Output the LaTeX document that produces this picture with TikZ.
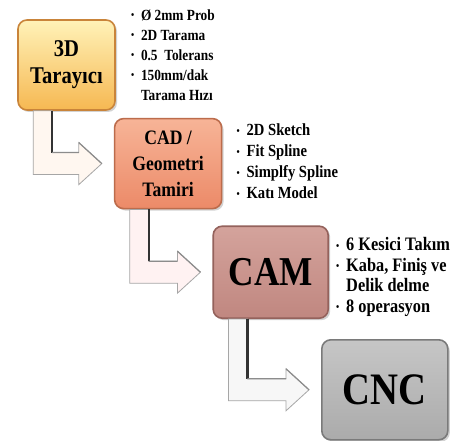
\documentclass[tikz,border=0pt]{standalone}
\usepackage{fontspec}
\setmainfont{Liberation Serif}[FakeStretch=0.86]
\usetikzlibrary{positioning, calc, shadows}

\definecolor{tarTop}{HTML}{FFF2B8}
\definecolor{tarBot}{HTML}{F6B852}
\definecolor{tarLine}{HTML}{C9843A}
\definecolor{cadTop}{HTML}{F7B497}
\definecolor{cadBot}{HTML}{EC8A68}
\definecolor{cadLine}{HTML}{BC6C4C}
\definecolor{camTop}{HTML}{D4A39C}
\definecolor{camBot}{HTML}{C08780}
\definecolor{camLine}{HTML}{94625C}
\definecolor{cncTop}{HTML}{C6C6C6}
\definecolor{cncBot}{HTML}{ABABAB}
\definecolor{cncLine}{HTML}{7A7A7A}

% bullet mark of the info lists
\newcommand\itm{\makebox[10pt][l]{\raisebox{0.2ex}{\fontsize{10.5}{10}\selectfont\textbullet}}}
% bent block arrow from the foot of one box to the side of the next
\newcommand\flowstep[3]{%
  \path[flowarrow=#3] let \p1=(#1.south west), \p2=(#2.west) in
    (\x1+16pt,\y1) -- (\x1+35pt,\y1) -- (\x1+35pt,\y2+11pt) -- (\x2-35pt,\y2+11pt)
    -- (\x2-35pt,\y2+21pt) -- (\x2-12pt,\y2) -- (\x2-35pt,\y2-21pt)
    -- (\x2-35pt,\y2-11pt) -- (\x1+16pt,\y2-11pt) -- cycle;
  \draw[flowedge] let \p1=(#1.south west), \p2=(#2.west) in
    (\x1+35pt,\y1) -- (\x1+35pt,\y2+11pt);
  \draw[flowedge, line width=1.2pt, black!45] let \p1=(#1.south west), \p2=(#2.west) in
    (\x1+35pt,\y2+11pt) -- (\x2-35pt,\y2+11pt) (\x2-35pt,\y2+21pt) -- (\x2-12pt,\y2);
}

\begin{document}
\begin{tikzpicture}[x=1pt, y=-1pt,
  box/.style={draw=#1Line, line width=1.6pt, rounded corners=9pt,
    top color=#1Top, bottom color=#1Bot, align=center, inner sep=2pt,
    drop shadow={shadow xshift=2pt, shadow yshift=-2pt, opacity=0.35}},
  list/.style={anchor=north west, align=left, inner sep=0pt},
  flowarrow/.style={fill=#1, draw=black!35, line width=0.8pt, line join=miter},
  flowedge/.style={draw=black!80, line width=2.4pt}]

    \useasboundingbox[fill=white] (0,0) rectangle (458,441);

    % process boxes
    \node[box=tar, minimum width=97pt, minimum height=90pt,
          font=\bfseries\fontsize{24}{27}\selectfont] (tar) at (66.5,65) {3D\\Tarayıcı};
    \node[box=cad, minimum width=107pt, minimum height=90pt,
          font=\bfseries\fontsize{20.5}{26}\selectfont,
          below right=7pt and -2pt of tar] (cad) {CAD /\\Geometri\\Tamiri};
    \node[box=cam, minimum width=115pt, minimum height=92pt,
          font=\bfseries\fontsize{41}{43}\selectfont,
          below right=16pt and -10pt of cad] (cam) {CAM};
    \node[box=cnc, minimum width=126pt, minimum height=100pt,
          font=\bfseries\fontsize{45}{47}\selectfont,
          below right=20pt and -8pt of cam] (cnc) {CNC};

    % info lists
    \node[list, font=\bfseries\fontsize{15.5}{20}\selectfont] (tarInfo)
        at ([xshift=15pt, yshift=10pt]tar.north east)
        {\itm Ø 2mm Prob\\\itm 2D Tarama\\\itm 0.5\ \ Tolerans\\\itm 150mm/dak\\\hspace*{10pt}Tarama Hızı};
    \node[list, font=\bfseries\fontsize{17}{21}\selectfont] (cadInfo)
        at ([xshift=14pt, yshift=-6pt]cad.north east)
        {\itm 2D Sketch\\\itm Fit Spline\\\itm Simplfy Spline\\\itm Katı Model};
    \node[list, font=\bfseries\fontsize{19}{20.5}\selectfont] (camInfo)
        at ([xshift=7pt, yshift=-12pt]cam.north east)
        {\itm 6 Kesici Takım\\\itm Kaba, Finiş ve\\\hspace*{10pt}Delik delme\\\itm 8 operasyon};

    % arrows between the steps
    \flowstep{tar}{cad}{orange!6}
    \flowstep{cad}{cam}{red!5}
    \flowstep{cam}{cnc}{black!3}
\end{tikzpicture}
\end{document}
